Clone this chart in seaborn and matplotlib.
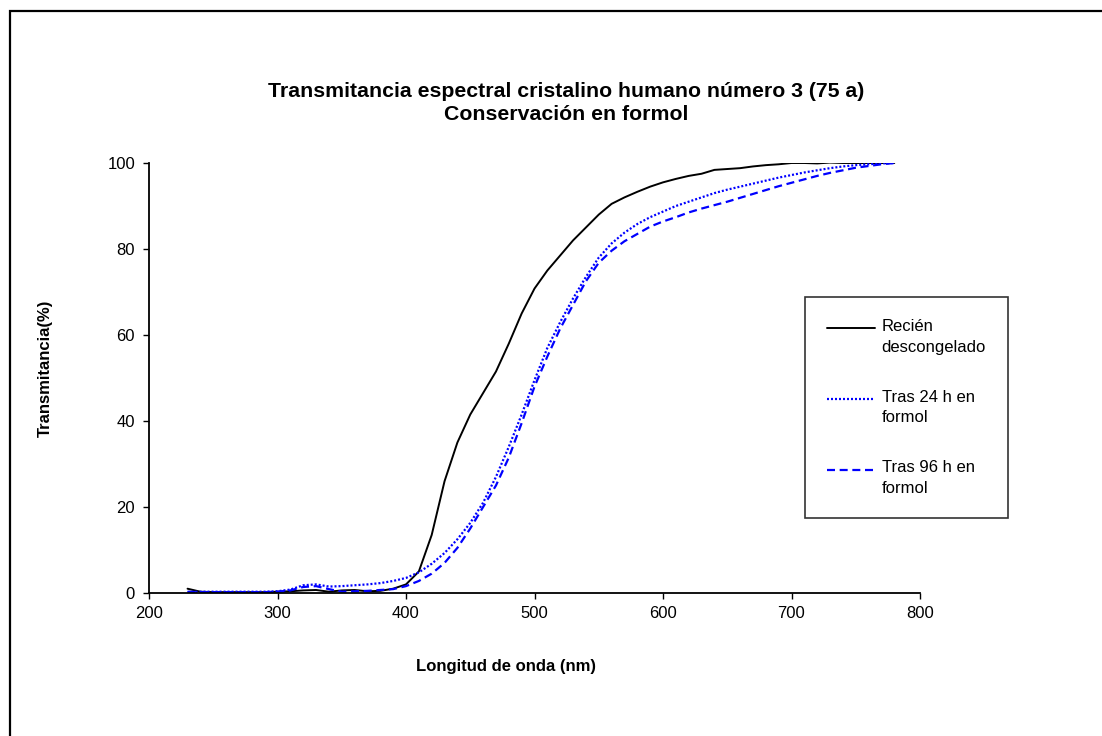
import numpy as np
import pandas as pd
import matplotlib
matplotlib.use("Agg")
import matplotlib.pyplot as plt
from matplotlib.patches import Rectangle
from matplotlib.lines import Line2D
from matplotlib.legend_handler import HandlerLine2D
import seaborn as sns

# Wavelength grid (nm)
wavelength = list(range(230, 790, 10))

# Transmittance (%) of lens no. 3
recien_descongelado = [
    1.0, 0.3, 0.2, 0.2, 0.2, 0.2, 0.2, 0.3, 0.4, 0.6,
    0.7, 0.3, 0.6, 0.7, 0.4, 0.5, 1.0, 2.0, 5.0, 13.5,
    26.0, 35.0, 41.5, 46.5, 51.5, 58.0, 65.0, 70.8, 75.0, 78.5,
    82.0, 85.0, 88.0, 90.5, 92.0, 93.3, 94.5, 95.5, 96.3, 97.0,
    97.5, 98.4, 98.6, 98.8, 99.2, 99.5, 99.7, 100.0, 100.0, 99.9,
    100.1, 100.0, 100.0, 100.0, 100.0, 100.0,
]
tras_24h = [
    0.2, 0.3, 0.3, 0.3, 0.3, 0.3, 0.3, 0.4, 0.8, 1.8,
    2.0, 1.5, 1.6, 1.8, 2.0, 2.3, 2.8, 3.5, 4.8, 6.8,
    9.3, 12.5, 16.3, 21.0, 27.0, 34.0, 41.5, 49.5, 57.0, 63.0,
    68.5, 73.5, 78.0, 81.3, 83.8, 85.8, 87.4, 88.7, 90.0, 91.0,
    92.0, 93.0, 93.8, 94.5, 95.2, 95.9, 96.6, 97.2, 97.8, 98.3,
    98.8, 99.2, 99.5, 99.7, 99.9, 100.0,
]
tras_96h = [
    0.3, 0.2, 0.2, 0.2, 0.2, 0.2, 0.2, 0.3, 0.6, 1.4,
    1.6, 0.9, 0.3, 0.4, 0.5, 0.7, 0.9, 1.6, 2.8, 4.5,
    7.0, 10.5, 15.0, 20.0, 25.0, 31.5, 39.5, 48.0, 55.0, 61.5,
    67.0, 72.5, 76.8, 79.6, 81.8, 83.5, 85.2, 86.4, 87.4, 88.5,
    89.4, 90.2, 91.0, 91.9, 92.8, 93.7, 94.6, 95.4, 96.2, 97.0,
    97.7, 98.3, 98.9, 99.3, 99.7, 100.0,
]

series_labels = ["Recién\ndescongelado", "Tras 24 h en\nformol", "Tras 96 h en\nformol"]
x_ticks = [200, 300, 400, 500, 600, 700, 800]
y_ticks = [0, 20, 40, 60, 80, 100]

sns.set_theme(style="white")
plt.rcParams["font.family"] = ["Liberation Sans", "DejaVu Sans"]
plt.rcParams["text.color"] = "black"
plt.rcParams["axes.labelcolor"] = "black"
plt.rcParams["xtick.color"] = "black"
plt.rcParams["ytick.color"] = "black"

fig = plt.figure(figsize=(11.02, 7.36), dpi=100)
fig.patch.set_facecolor("white")
ax = fig.add_axes([149 / 1102, 143 / 736, 771 / 1102, 430 / 736])

styles = [
    dict(color="black", linestyle="-", linewidth=1.4),
    dict(color="#0000ff", linestyle=(0, (0.9, 0.9)), linewidth=1.6),
    dict(color="#0000ff", linestyle=(0, (3.6, 2.1)), linewidth=1.6),
]
for vals, lab, st in zip([recien_descongelado, tras_24h, tras_96h], series_labels, styles):
    sns.lineplot(x=wavelength, y=vals, ax=ax, label=lab, **st)

ax.set_xlim(200, 800)
ax.set_ylim(0, 100)
ax.set_xticks(x_ticks)
ax.set_yticks(y_ticks)
ax.set_xticklabels([str(v) for v in x_ticks])
ax.set_yticklabels([str(v) for v in y_ticks])
ax.tick_params(axis="both", which="major", bottom=True, left=True,
               direction="out", length=4, width=1, color="black",
               labelsize=12, labelcolor="black")
ax.tick_params(axis="y", pad=6)
ax.tick_params(axis="x", pad=5)
for side in ["top", "right"]:
    ax.spines[side].set_visible(False)
for side in ["left", "bottom"]:
    ax.spines[side].set_color("black")
    ax.spines[side].set_linewidth(1.3)
ax.set_xlabel("")
ax.set_ylabel("")
ax.grid(False)


class FirstLineHandler(HandlerLine2D):
    """Places the legend sample level with the first line of its label."""

    def __init__(self, shift, **kw):
        super().__init__(**kw)
        self.shift = shift

    def create_artists(self, legend, orig_handle, xdescent, ydescent,
                       width, height, fontsize, trans):
        arts = super().create_artists(legend, orig_handle, xdescent, ydescent,
                                      width, height, fontsize, trans)
        for a in arts:
            if isinstance(a, Line2D):
                a.set_ydata(np.asarray(a.get_ydata(), dtype=float) + self.shift)
        return arts


handles, labels = ax.get_legend_handles_labels()
ax.get_legend().remove()
leg = fig.legend(handles, labels, loc="upper left",
                 bbox_to_anchor=(805 / 1102, 1 - 297 / 736),
                 frameon=True, fancybox=False, edgecolor="black",
                 fontsize=12, handlelength=2.9, handletextpad=0.4,
                 labelspacing=2.1, borderpad=1.3, borderaxespad=0.0,
                 handler_map={Line2D: FirstLineHandler(shift=6.5)})
leg.get_frame().set_linewidth(1.2)
for t in leg.get_texts():
    t.set_linespacing(1.49)

fig.text(566 / 1102, 1 - 103 / 736,
         "Transmitancia espectral cristalino humano número 3 (75 a)\nConservación en formol",
         ha="center", va="center", fontsize=15.3, fontweight="bold", linespacing=1.32)
fig.text(506 / 1102, 1 - 666 / 736, "Longitud de onda (nm)",
         ha="center", va="center", fontsize=12, fontweight="bold")
fig.text(45 / 1102, 1 - 368 / 736, "Transmitancia(%)", rotation=90,
         ha="center", va="center", fontsize=12, fontweight="bold")

# Outer chart frame
fig.patches.append(Rectangle((10 / 1102, -0.1), 1.2, 1 - 11 / 736 + 0.1,
                             transform=fig.transFigure, fill=False,
                             edgecolor="black", linewidth=1.6, zorder=0))

fig.savefig("out.png", dpi=100, facecolor="white")
